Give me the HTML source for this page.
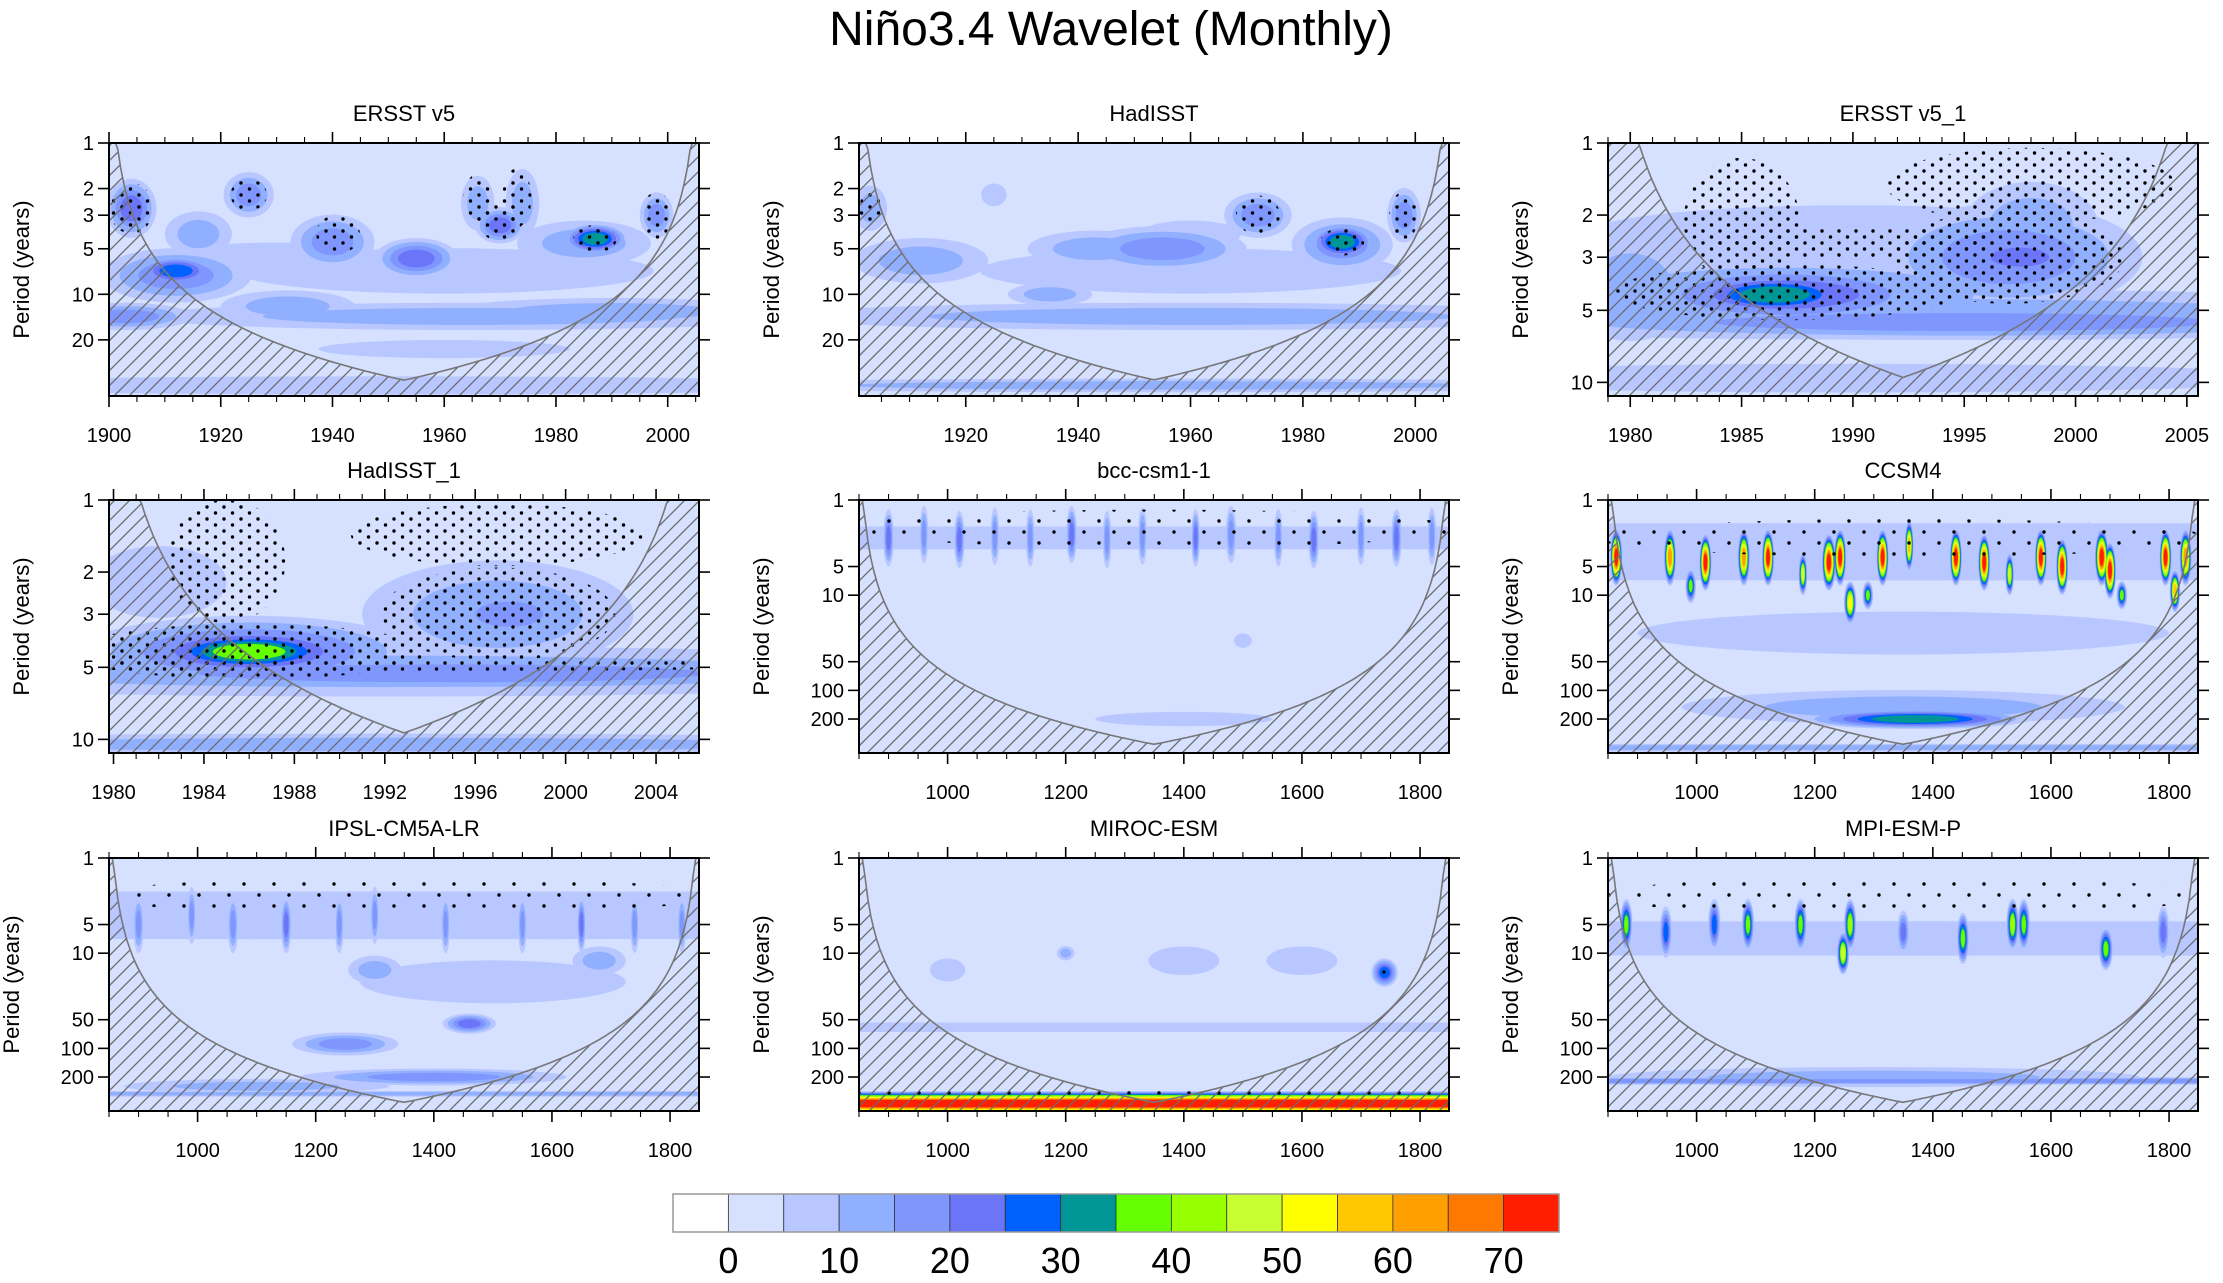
<!DOCTYPE html>
<html><head><meta charset="utf-8"><style>
html,body{margin:0;padding:0;background:#fff;}
svg{display:block;font-family:"Liberation Sans",sans-serif;}
</style></head><body>
<svg id="chart" width="2223" height="1283" viewBox="0 0 2223 1283" xmlns="http://www.w3.org/2000/svg">
<defs>
<pattern id="hatch" patternUnits="userSpaceOnUse" width="15" height="15"><path d="M-2,17 L17,-2 M-2,2 L2,-2 M13,17 L17,13" stroke="#6a6a6a" stroke-width="1.3"/></pattern>
<pattern id="dots" patternUnits="userSpaceOnUse" width="17" height="12"><circle cx="3" cy="3" r="1.7" fill="#000"/><circle cx="11.5" cy="9" r="1.7" fill="#000"/></pattern>
<pattern id="dots2" patternUnits="userSpaceOnUse" width="30" height="22"><circle cx="4" cy="4" r="1.7" fill="#000"/><circle cx="19" cy="15" r="1.7" fill="#000"/></pattern>
</defs>
<text x="1111" y="45" font-size="48" text-anchor="middle">Niño3.4 Wavelet (Monthly)</text>
</svg>
<script>
const colorLevels=["#ffffff","#d6e0ff","#b8c7ff","#90b0ff","#7f96ff","#6a75f8","#0061ff","#009696","#64ff00","#96ff00","#c8ff32","#ffff00","#ffc800","#ffa000","#ff7800","#ff1e00"];
const colorbarLabels=["0","10","20","30","40","50","60","70"];
// blobs: [year, period, halfWidthYears, halfHeightDecades, peakLevel]
const ersstBlobs=[[1965,14,40,0.06,3],[1990,13,20,0.06,3],[1903,14,8,0.06,4],[1950,40,60,0.04,2],[1960,23,15,0.04,2],[1932,12,8,0.07,3],[1960,7,25,0.1,2],[1930,6,15,0.08,2],[1904,2.7,3,0.13,5],[1912,7.5,9,0.12,4],[1912,7,5,0.07,6],[1916,4,4,0.1,3],[1925,2.2,3,0.1,4],[1940,4.5,5,0.12,4],[1955,5.8,5,0.09,5],[1970,3.5,3,0.08,5],[1974,2.5,2,0.15,3],[1985,4.6,8,0.1,3],[1987,4.3,4,0.07,7],[1998,3,2,0.1,4],[1966,2.5,2,0.12,3]];
const ersstSig=[[1904,2.7,3,0.13],[1925,2.2,2.5,0.08],[1941,4,3,0.1],[1970,3.3,3,0.1],[1987,4.3,3,0.07],[1998,3,2,0.12],[1966,2.3,2,0.12],[1973,2.3,2,0.15]];
const hadBlobs=[[1960,14,50,0.06,3],[1935,10,5,0.05,3],[1955,40,60,0.03,3],[1960,7,25,0.1,2],[1903,2.7,2,0.1,3],[1925,2.2,1.5,0.05,2],[1912,6,8,0.1,3],[1943,5,8,0.08,3],[1955,5,10,0.1,4],[1960,4,6,0.06,2],[1972,3,4,0.1,4],[1987,4.7,6,0.12,4],[1987,4.5,4,0.08,7],[1998,3,2,0.12,4]];
const hadSig=[[1972,3,3,0.1],[1987,4.5,3,0.07],[1998,3,2,0.12],[1903,2.7,1.5,0.08]];
const ersst1Blobs=[[1992,5.2,20,0.07,3],[1995,5.6,15,0.05,4],[1990,9.6,14,0.04,2],[1990,2.4,8,0.08,2],[1980,4,2,0.15,3],[1987,4.3,9,0.12,3],[1987,4.3,5,0.09,5],[1986.5,4.3,2.8,0.06,7],[1997,3,4,0.15,4],[1998,2.2,2,0.12,3],[1997.5,3,2,0.06,5]];
const ersst1Sig=[[1985,2.1,2,0.2],[1987,4.2,6,0.09],[1990,2.6,5,0.05],[1997,3,4,0.15],[1998,1.5,5,0.12]];
const had1Blobs=[[1992,5.2,20,0.07,3],[1995,5.3,15,0.05,4],[1992,10.5,20,0.03,3],[1982,2.2,2,0.1,2],[1986,4.3,5,0.1,5],[1986,4.3,3,0.06,8],[1997,3,4,0.15,3],[1997.5,3,2,0.07,4]];
const had1Sig=[[1985,1.8,2,0.2],[1986,4.3,6,0.09],[1997,3,4,0.15],[1997,1.4,5,0.1],[1992,4.9,14,0.02]];
const bccBlobs=[[1350,2.5,5000,0.12,2],[1400,200,100,0.05,2],[1500,30,10,0.05,2],[900,2.5,6,0.2,5],[960,2.3,5,0.2,4],[1020,2.6,6,0.2,5],[1080,2.4,5,0.2,4],[1140,2.5,5,0.2,4],[1210,2.3,6,0.2,5],[1270,2.6,5,0.2,4],[1330,2.4,5,0.2,4],[1420,2.5,5,0.2,5],[1480,2.3,6,0.2,4],[1560,2.5,5,0.2,4],[1620,2.6,6,0.2,5],[1700,2.4,5,0.2,4],[1760,2.5,6,0.2,5],[1820,2.4,5,0.2,4]];
const bccSig=[[1350,2,520,0.2]];
const ccsmBlobs=[[1350,400,5000,0.04,3],[1350,150,250,0.12,3],[1370,200,130,0.07,7],[1350,3.5,5000,0.3,2],[1350,25,300,0.15,2],[864,4,7,0.2,15],[955,4,7,0.2,13],[1015,4.5,7,0.2,15],[1080,4,7,0.2,13],[1121,4,7,0.2,15],[1224,4.5,8,0.2,15],[1243,4,7,0.2,15],[1260,12,7,0.15,11],[1315,4,7,0.2,15],[1290,10,6,0.1,8],[1439,4,7,0.2,15],[1487,4.5,7,0.2,15],[1583,4,7,0.2,15],[1619,5,7,0.2,15],[1686,4,8,0.2,15],[1700,5.5,7,0.2,15],[1794,4,7,0.2,15],[1828,4,7,0.2,13],[1810,9,6,0.15,12],[1180,6,5,0.15,10],[1530,6,5,0.15,10],[1360,3,5,0.18,12],[1720,10,6,0.1,8],[990,8,6,0.12,8]];
const ccsmSig=[[1350,2.5,520,0.2]];
const ipslBlobs=[[1350,4,5000,0.25,2],[1500,20,150,0.15,2],[1100,250,150,0.05,3],[1400,200,150,0.06,4],[1250,90,60,0.08,4],[1460,55,30,0.07,5],[1350,300,5000,0.03,3],[900,5,6,0.2,4],[990,4,5,0.2,4],[1060,5,6,0.2,4],[1150,5,6,0.2,5],[1240,5,5,0.2,4],[1300,4,5,0.2,4],[1420,5,5,0.2,4],[1550,5,5,0.2,4],[1650,5,5,0.2,5],[1740,5,5,0.2,4],[1820,5,5,0.2,4],[1300,15,30,0.1,3],[1680,12,30,0.1,3]];
const ipslSig=[[1350,2.5,520,0.2]];
const mirocBlobs=[[1350,380,5000,0.13,15],[1740,16,15,0.1,6],[1200,10,10,0.05,3],[1000,15,20,0.08,2],[1400,12,40,0.1,2],[1600,12,40,0.1,2],[1350,60,5000,0.05,2]];
const mirocSig=[[1350,290,5000,0.03],[1740,16,6,0.05]];
const mpiBlobs=[[1350,7,5000,0.18,2],[1300,200,300,0.07,3],[1350,220,5000,0.04,4],[881,5,7,0.18,8],[948,6,7,0.18,6],[1030,5,7,0.18,6],[1087,5,7,0.18,8],[1176,5,7,0.18,8],[1248,10,7,0.15,10],[1260,5,7,0.18,9],[1350,6,7,0.15,5],[1451,7,7,0.18,8],[1535,5,7,0.18,9],[1554,5,7,0.18,8],[1693,9,8,0.15,8],[1790,6,7,0.18,5]];
const mpiSig=[[1350,2.5,520,0.2]];

const svg=document.getElementById('chart');
const NS='http://www.w3.org/2000/svg';
function mk(tag,attrs,parent){const e=document.createElementNS(NS,tag);for(const k in attrs)e.setAttribute(k,attrs[k]);(parent||svg).appendChild(e);return e;}

const W=590,H=253;
const panels=[
 {name:"ERSST v5",x0:109,y0:143,xmin:1900,xmax:2005.6,pmax:47,yt:[1,2,3,5,10,20],xmaj:20,xmn:5,xl0:1900,t0:1900,t1:2005.6,a:0.7,b:1,blobs:ersstBlobs,sig:ersstSig,sp:'dots'},
 {name:"HadISST",x0:859,y0:143,xmin:1901,xmax:2006,pmax:47,yt:[1,2,3,5,10,20],xmaj:20,xmn:5,xl0:1920,t0:1901,t1:2006,a:0.7,b:1,blobs:hadBlobs,sig:hadSig,sp:'dots'},
 {name:"ERSST v5_1",x0:1608,y0:143,xmin:1979,xmax:2005.5,pmax:11.4,yt:[1,2,3,5,10],xmaj:5,xmn:1,xl0:1980,t0:1979,t1:2005.5,a:0.72,b:1,blobs:ersst1Blobs,sig:ersst1Sig,sp:'dots'},
 {name:"HadISST_1",x0:109,y0:500,xmin:1979.8,xmax:2005.9,pmax:11.4,yt:[1,2,3,5,10],xmaj:4,xmn:1,xl0:1980,t0:1979.8,t1:2005.9,a:0.72,b:1,blobs:had1Blobs,sig:had1Sig,sp:'dots'},
 {name:"bcc-csm1-1",x0:859,y0:500,xmin:850,xmax:1849,pmax:455,yt:[1,5,10,50,100,200],xmaj:200,xmn:50,xl0:1000,t0:850,t1:1849,a:0.0615,b:1.4,blobs:bccBlobs,sig:bccSig,sp:'dots2'},
 {name:"CCSM4",x0:1608,y0:500,xmin:850,xmax:1849,pmax:455,yt:[1,5,10,50,100,200],xmaj:200,xmn:50,xl0:1000,t0:850,t1:1849,a:0.0615,b:1.4,blobs:ccsmBlobs,sig:ccsmSig,sp:'dots2'},
 {name:"IPSL-CM5A-LR",x0:109,y0:858,xmin:850,xmax:1849,pmax:455,yt:[1,5,10,50,100,200],xmaj:200,xmn:50,xl0:1000,t0:850,t1:1849,a:0.0615,b:1.4,blobs:ipslBlobs,sig:ipslSig,sp:'dots2'},
 {name:"MIROC-ESM",x0:859,y0:858,xmin:850,xmax:1849,pmax:455,yt:[1,5,10,50,100,200],xmaj:200,xmn:50,xl0:1000,t0:850,t1:1849,a:0.0615,b:1.4,blobs:mirocBlobs,sig:mirocSig,sp:'dots2'},
 {name:"MPI-ESM-P",x0:1608,y0:858,xmin:850,xmax:1849,pmax:455,yt:[1,5,10,50,100,200],xmaj:200,xmn:50,xl0:1000,t0:850,t1:1849,a:0.0615,b:1.4,blobs:mpiBlobs,sig:mpiSig,sp:'dots2'}
];

panels.forEach((p,i)=>{
 const slug=p.name.toLowerCase().replace(/[^a-z0-9]+/g,'-');
 const g=mk('g',{});
 
 
 const X=t=>p.x0+(t-p.xmin)/(p.xmax-p.xmin)*W;
 const dec=H/Math.log10(p.pmax);
 const Y=per=>p.y0+Math.log10(per)*dec;
 const cid='clip'+i;
 const cp=mk('clipPath',{id:cid},g);mk('rect',{x:p.x0,y:p.y0,width:W,height:H},cp);
 const plot=mk('g',{'clip-path':'url(#'+cid+')'},g);
 const bg=mk('rect',{x:p.x0,y:p.y0,width:W,height:H,fill:colorLevels[1]},plot);
 
 
 const pxYear=W/(p.xmax-p.xmin);
 for(let L=2;L<=15;L++){
  p.blobs.forEach(b=>{
   if(b[4]<L)return;
   const f=b[2]<1000?1.5:1;
   const s=b[4]===2?1:1-(L-2)/(b[4]-1)*0.75;
   const el=mk('ellipse',{cx:X(b[0]),cy:Y(b[1]),rx:Math.max(1,b[2]*f*pxYear*s),ry:Math.max(1,b[3]*f*dec*s),fill:colorLevels[L]},plot);
   
   
  });
 }
 p.sig.forEach(sg=>{
  const f=sg[2]<500?1.3:1;
  const el=mk('ellipse',{cx:X(sg[0]),cy:Y(sg[1]),rx:sg[2]*f*pxYear,ry:sg[3]*f*dec,fill:'url(#'+p.sp+')'},plot);
  
  
 });
 const pts=[];
 for(let k=0;k<=200;k++){
  const t=p.xmin+(p.xmax-p.xmin)*k/200;
  const d=Math.max(0.01,Math.min(t-p.t0,p.t1-t));
  const per=Math.max(0.5,p.a*Math.pow(d,p.b));
  pts.push([X(t),Math.max(p.y0-2,Y(per))]);
 }
 const poly=pts.map(q=>q[0].toFixed(1)+','+q[1].toFixed(1)).join(' ');
 const hz=mk('polygon',{points:poly+' '+(p.x0+W)+','+(p.y0+H+5)+' '+p.x0+','+(p.y0+H+5),fill:'url(#hatch)'},plot);
 
 
 const cl=mk('polyline',{points:poly,fill:'none',stroke:'#777',"stroke-width":1.6},plot);
 
 
 const fr=mk('rect',{x:p.x0,y:p.y0,width:W,height:H,fill:'none',stroke:'#000',"stroke-width":2},g);
 
 
 p.yt.forEach(v=>{
  const y=Y(v);
  mk('line',{x1:p.x0-11,x2:p.x0,y1:y,y2:y,stroke:'#000',"stroke-width":1.6},g);
  mk('line',{x1:p.x0+W,x2:p.x0+W+11,y1:y,y2:y,stroke:'#000',"stroke-width":1.6},g);
  const tl=mk('text',{x:p.x0-15,y:y+7,"font-size":20,"text-anchor":"end"},g);
  tl.textContent=v;
  
  
 });
 const start=Math.ceil(p.xmin/p.xmn)*p.xmn;
 for(let t=start;t<=p.xmax+1e-6;t+=p.xmn){
  const x=X(t);
  const major=Math.abs((t-p.xl0)/p.xmaj-Math.round((t-p.xl0)/p.xmaj))<1e-6;
  const len=major?11:6;
  mk('line',{x1:x,x2:x,y1:p.y0+H,y2:p.y0+H+len,stroke:'#000',"stroke-width":major?1.6:1.1},g);
  mk('line',{x1:x,x2:x,y1:p.y0-len,y2:p.y0,stroke:'#000',"stroke-width":major?1.6:1.1},g);
  if(major&&t>=p.xl0-1e-6){
   const tl=mk('text',{x:x,y:p.y0+H+46,"font-size":20,"text-anchor":"middle"},g);
   tl.textContent=Math.round(t);
   
   
  }
 }
 const tt=mk('text',{x:p.x0+W/2,y:p.y0-22,"font-size":22,"text-anchor":"middle"},g);
 tt.textContent=p.name;
 
 
 const yoff=p.pmax>100?-90:-80;
 const yl=mk('text',{x:0,y:0,"font-size":22,"text-anchor":"middle",transform:'translate('+(p.x0+yoff)+','+(p.y0+H/2)+') rotate(-90)'},g);
 yl.textContent='Period (years)';
 
 
});

const cb=mk('g',{});


const cbx=673,cby=1194,cbw=886,cbh=38,bw=cbw/colorLevels.length;
colorLevels.forEach((c,i)=>{
 const r=mk('rect',{x:cbx+i*bw,y:cby,width:bw,height:cbh,fill:c,stroke:'#333',"stroke-width":0.8},cb);
 
 
});
mk('rect',{x:cbx,y:cby,width:cbw,height:cbh,fill:'none',stroke:'#999',"stroke-width":1.5},cb);
colorbarLabels.forEach((l,i)=>{
 const t=mk('text',{x:cbx+(1+2*i)*bw,y:1273,"font-size":36,"text-anchor":"middle"},cb);
 t.textContent=l;
 
 
});
</script>
</body></html>
